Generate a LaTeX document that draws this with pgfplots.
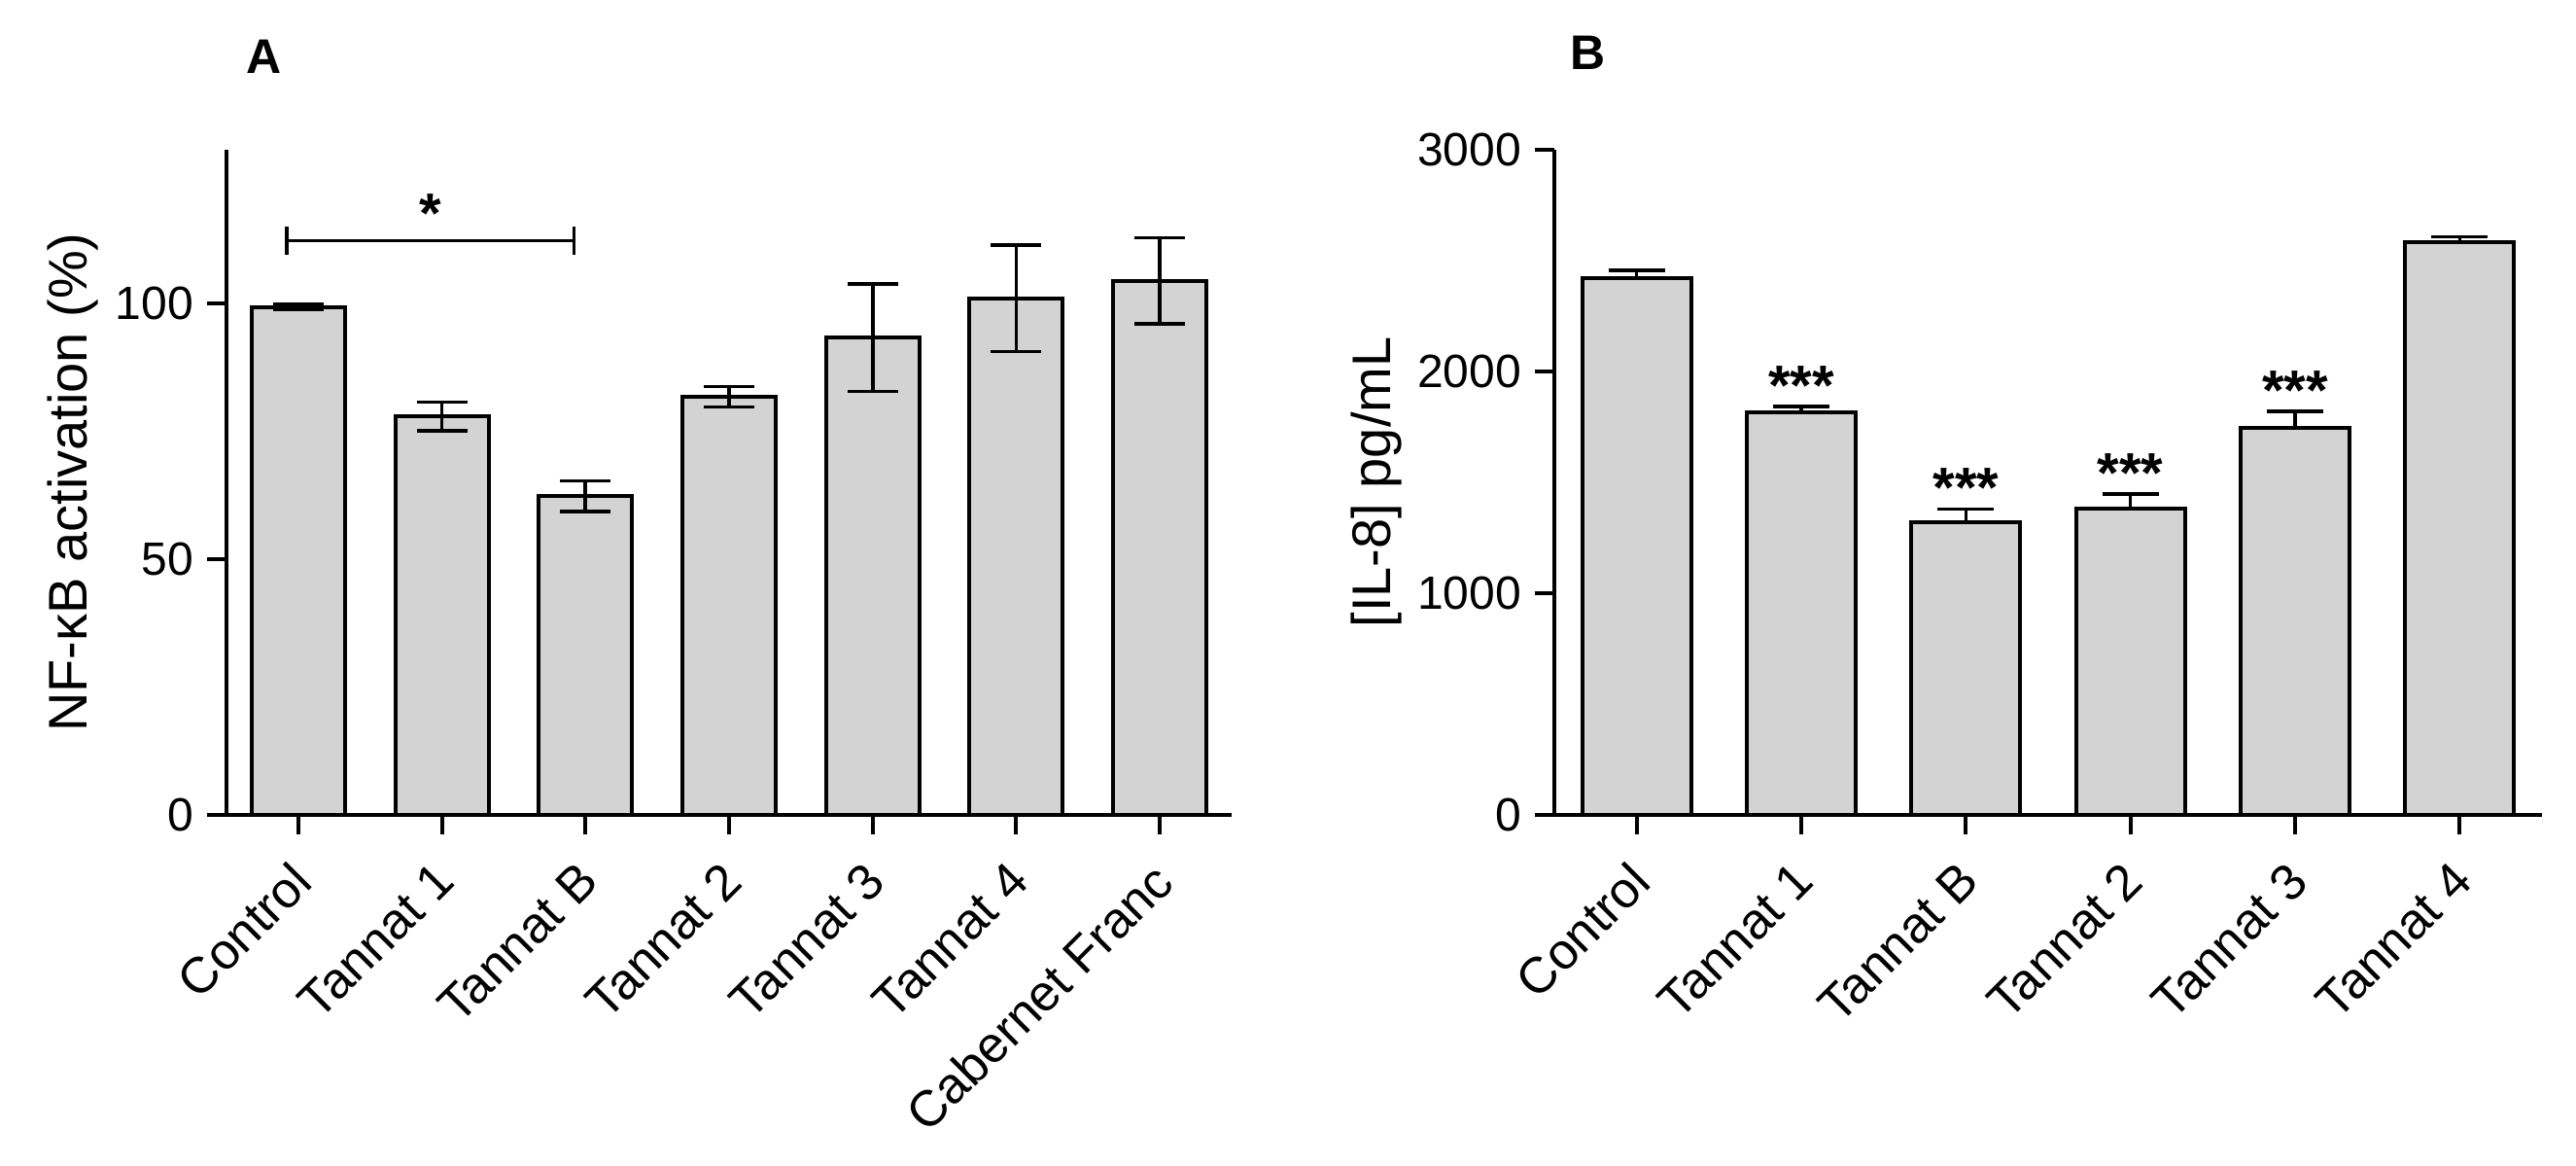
\documentclass[border=0pt]{standalone}
\usepackage{fontspec}
\setmainfont{Liberation Sans}
\usepackage{pgfplots}
\pgfplotsset{compat=1.18}
\definecolor{barfill}{RGB}{211,211,211}

\pgfplotsset{
  panel/.style={
    scale only axis, width=#1, height=171pt,
    axis x line*=bottom, axis y line*=left,
    axis line style={line width=1.2pt, black},
    tick align=outside, major tick length=5pt,
    tick style={black, line width=1pt},
    /pgf/number format/assume math mode=true,
    /pgf/number format/1000 sep={},
    yticklabel style={font=\fontsize{12}{14}\selectfont},
    xticklabel style={xshift=-2.5pt, yshift=-1.5pt, rotate=45, anchor=north east, font=\fontsize{13}{15}\selectfont},
    ylabel style={font=\fontsize{14}{16}\selectfont},
    ybar, ymin=0,
  },
  errbar/.style n args={2}{
    error bars/.cd, y dir=#1, y explicit,
    error bar style={line width=0.9pt, black},
    error mark options={rotate=90, line width=0.9pt, black, mark size=#2},
  },
}
\tikzset{stars/.style={anchor=base, font=\bfseries\fontsize{14.5}{16}\selectfont}}

\begin{document}
\begin{tikzpicture}
\useasboundingbox (0,0) rectangle (662.5pt,299.5pt);

% A: NF-kB activation
\begin{axis}[panel=258.5pt,
  at={(58.25pt,90pt)}, anchor=south west,
  xmin=-0.5, xmax=6.5, ymax=130,
  ytick={0,50,100},
  xtick={0,...,6},
  xticklabels={Control,Tannat 1,Tannat B,Tannat 2,Tannat 3,Tannat 4,Cabernet Franc},
  ylabel={NF-κB activation (\%)},
  ylabel style={at={(axis description cs:-0.153,0.5)}, anchor=center},
]
\addplot[fill=barfill, draw=black, line width=1pt, bar width=0.65, errbar={both}{6.5pt}]
  table[x=x, y=y, y error=e] {
x y e
0 99.3 0.5
1 77.9 2.8
2 62.3 3.0
3 81.7 2.0
4 93.3 10.5
5 101.0 10.4
6 104.4 8.4
};
\draw[line width=0.9pt] (axis cs:-0.08,112.2) -- (axis cs:1.92,112.2);
\draw[line width=0.9pt] (axis cs:-0.08,109.4) -- (axis cs:-0.08,115.0);
\draw[line width=0.9pt] (axis cs:1.92,109.4) -- (axis cs:1.92,115.0);
\node[stars, yshift=2pt] at (axis cs:0.92,112.2) {*};
\end{axis}

% B: IL-8
\begin{axis}[panel=254pt,
  at={(399.75pt,90pt)}, anchor=south west,
  xmin=-0.5, xmax=5.5, ymax=3000,
  ytick={0,1000,2000,3000},
  xtick={0,...,5},
  xticklabels={Control,Tannat 1,Tannat B,Tannat 2,Tannat 3,Tannat 4},
  ylabel={[IL-8] pg/mL},
  ylabel style={at={(axis description cs:-0.18,0.5)}, anchor=center},
]
\addplot[fill=barfill, draw=black, line width=1pt, bar width=0.66, errbar={plus}{7.25pt}]
  table[x=x, y=y, y error=e] {
x y e
0 2421 35
1 1816 25
2 1320 60
3 1382 65
4 1746 74
5 2583 25
};
\node[stars, yshift=0.5pt] at (axis cs:1,1841) {***};
\node[stars, yshift=0.5pt] at (axis cs:2,1380) {***};
\node[stars, yshift=0.5pt] at (axis cs:3,1447) {***};
\node[stars, yshift=0.5pt] at (axis cs:4,1820) {***};
\end{axis}

\node[font=\bfseries\fontsize{12.5}{14}\selectfont] at (68pt,285pt) {A};
\node[font=\bfseries\fontsize{12.5}{14}\selectfont] at (408.5pt,286pt) {B};
\end{tikzpicture}
\end{document}
